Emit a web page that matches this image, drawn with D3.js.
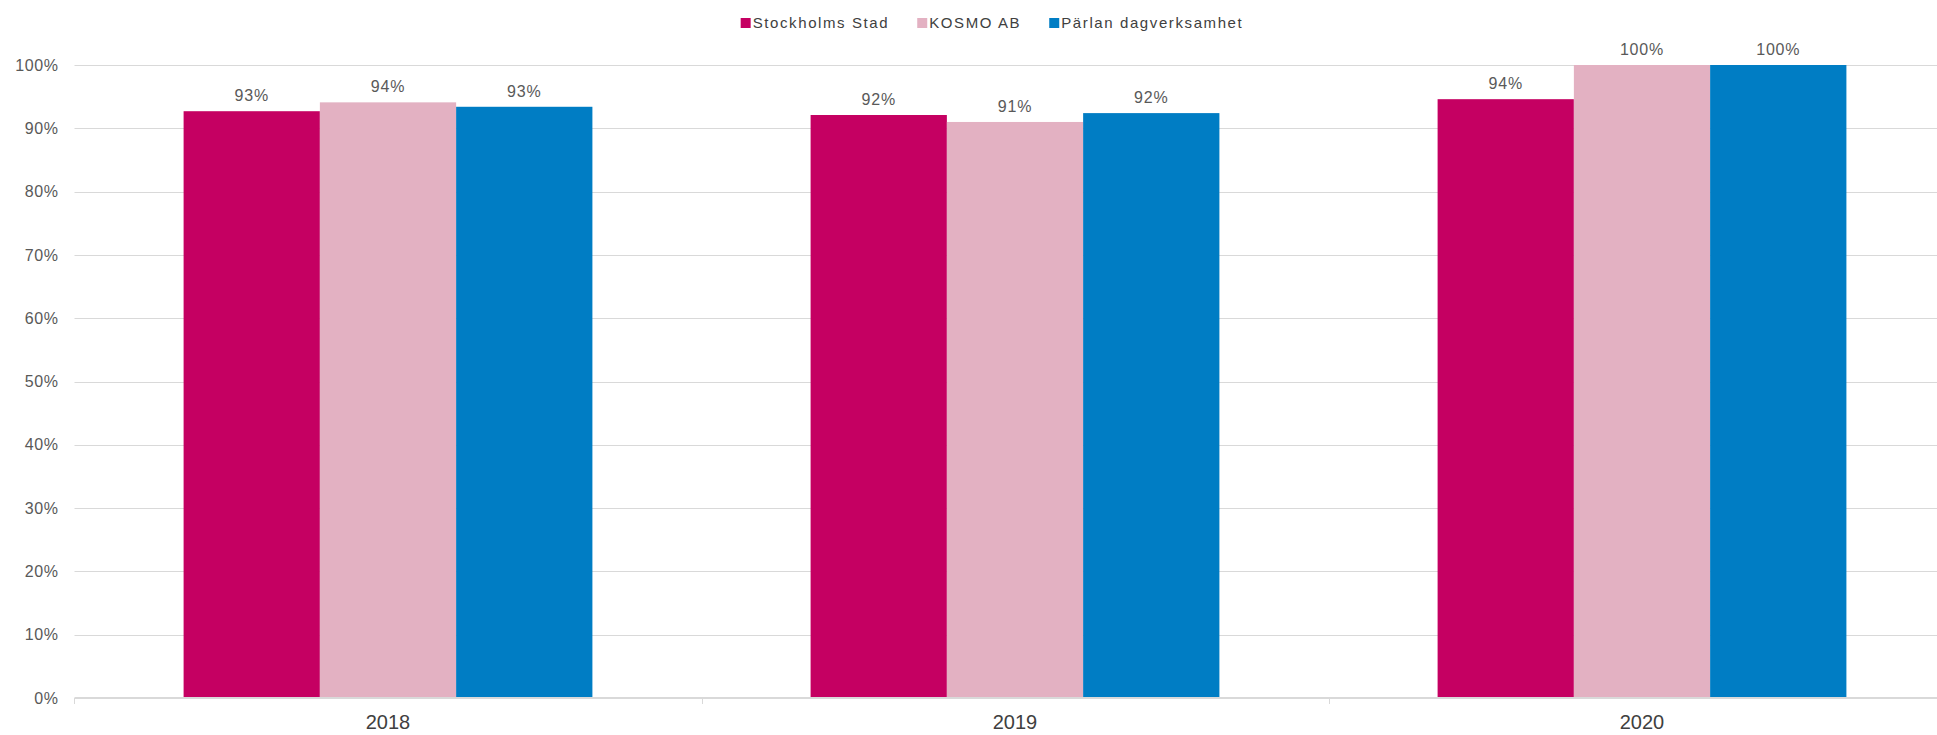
<!DOCTYPE html>
<html>
<head>
<meta charset="utf-8">
<script src="https://cdn.jsdelivr.net/npm/d3@7"></script>
<style>
  html, body { margin: 0; padding: 0; background: #fff; overflow: hidden; }
  svg { display: block; font-family: "Liberation Sans", Arial, sans-serif; }
</style>
</head>
<body>
<svg id="chart" width="1937" height="735"></svg>
<script>
const categories = ["2018", "2019", "2020"];
const seriesNames = ["Stockholms Stad", "KOSMO AB", "Pärlan dagverksamhet"];
const stockholmsStad = [0.927, 0.921, 0.946];
const kosmoAB = [0.941, 0.910, 1.00];
const parlan = [0.934, 0.924, 1.00];
const valueLabels = [["93%", "92%", "94%"], ["94%", "91%", "100%"], ["93%", "92%", "100%"]];
const yTicks = [0, 0.1, 0.2, 0.3, 0.4, 0.5, 0.6, 0.7, 0.8, 0.9, 1.0];
const colors = ["#C50062", "#E3B1C2", "#007DC4"];

const seriesValues = [stockholmsStad, kosmoAB, parlan];

const svg = d3.select("#chart");
const mLeft = 74.5, mRight = 1955.5, mTop = 65, mBottom = 698;

const x0 = d3.scaleBand().domain(categories).range([mLeft, mRight]).paddingInner(0.348).paddingOuter(0.174);
const x1 = d3.scaleBand().domain(seriesNames).range([0, x0.bandwidth()]).padding(0);
const y = d3.scaleLinear().domain([0, 1]).range([mBottom, mTop]);

// gridlines
svg.append("g")
  .selectAll("line")
  .data(yTicks.filter(d => d > 0))
  .join("line")
  .attr("x1", mLeft).attr("x2", mRight)
  .attr("y1", d => Math.round(y(d)) + 0.5).attr("y2", d => Math.round(y(d)) + 0.5)
  .attr("stroke", "#d9d9d9").attr("stroke-width", 1);

// y axis labels
const yAxis = d3.axisLeft(y).tickValues(yTicks).tickFormat(d3.format(".0%")).tickSize(0).tickPadding(16);
const gy = svg.append("g").attr("transform", `translate(${mLeft},0)`).call(yAxis);
gy.select(".domain").remove();
gy.selectAll("text")
  .attr("fill", "#595959")
  .style("font-size", "16px")
  .style("letter-spacing", "0.6px")
  .style("font-family", "'Liberation Sans', Arial, sans-serif");

// bars
const groups = svg.append("g")
  .selectAll("g")
  .data(categories)
  .join("g")
  .attr("transform", d => `translate(${x0(d)},0)`);

const rowData = (c, ci) => seriesNames.map((s, si) => ({ s, si, v: seriesValues[si][ci], label: valueLabels[si][ci] }));

groups.selectAll("rect")
  .data(rowData)
  .join("rect")
  .attr("x", d => x1(d.s))
  .attr("width", x1.bandwidth())
  .attr("y", d => y(d.v))
  .attr("height", d => y(0) - y(d.v))
  .attr("fill", d => colors[d.si]);

groups.selectAll("text")
  .data(rowData)
  .join("text")
  .attr("x", d => x1(d.s) + x1.bandwidth() / 2)
  .attr("y", d => y(d.v) - 10)
  .attr("text-anchor", "middle")
  .attr("fill", "#595959")
  .style("font-size", "16px")
  .style("letter-spacing", "0.8px")
  .text(d => d.label);

// x axis
const gx = svg.append("g").attr("transform", `translate(0,${mBottom})`);
gx.append("line")
  .attr("x1", mLeft).attr("x2", mRight)
  .attr("y1", 0).attr("y2", 0)
  .attr("stroke", "#d9d9d9").attr("stroke-width", 2);
const boundaries = categories.map(c => x0(c) - x0.step() * x0.paddingInner() / 2);
boundaries.push(mRight);
gx.selectAll("line.tick")
  .data(boundaries)
  .join("line")
  .attr("class", "tick")
  .attr("x1", d => Math.round(d) + 0.5).attr("x2", d => Math.round(d) + 0.5)
  .attr("y1", 0).attr("y2", 6)
  .attr("stroke", "#d9d9d9").attr("stroke-width", 1);
gx.selectAll("text")
  .data(categories)
  .join("text")
  .attr("x", d => x0(d) + x0.bandwidth() / 2)
  .attr("y", 31)
  .attr("text-anchor", "middle")
  .attr("fill", "#404040")
  .style("font-size", "20px")
  .text(d => d);

// legend
const legend = svg.append("g");
const items = legend.selectAll("g").data(seriesNames).join("g");
items.append("rect").attr("width", 10).attr("height", 10).attr("y", 18).attr("fill", (d, i) => colors[i]);
items.append("text")
  .attr("x", 12).attr("y", 28)
  .attr("fill", "#404040")
  .style("font-size", "15px")
  .style("letter-spacing", "1.6px")
  .text(d => d);
const gap = 28;
let widths = [];
items.each(function () { widths.push(this.getBBox().width); });
const total = d3.sum(widths) + gap * (widths.length - 1);
let cx = 992 - total / 2;
items.each(function (d, i) {
  d3.select(this).attr("transform", `translate(${cx},0)`);
  cx += widths[i] + gap;
});
</script>
</body>
</html>
